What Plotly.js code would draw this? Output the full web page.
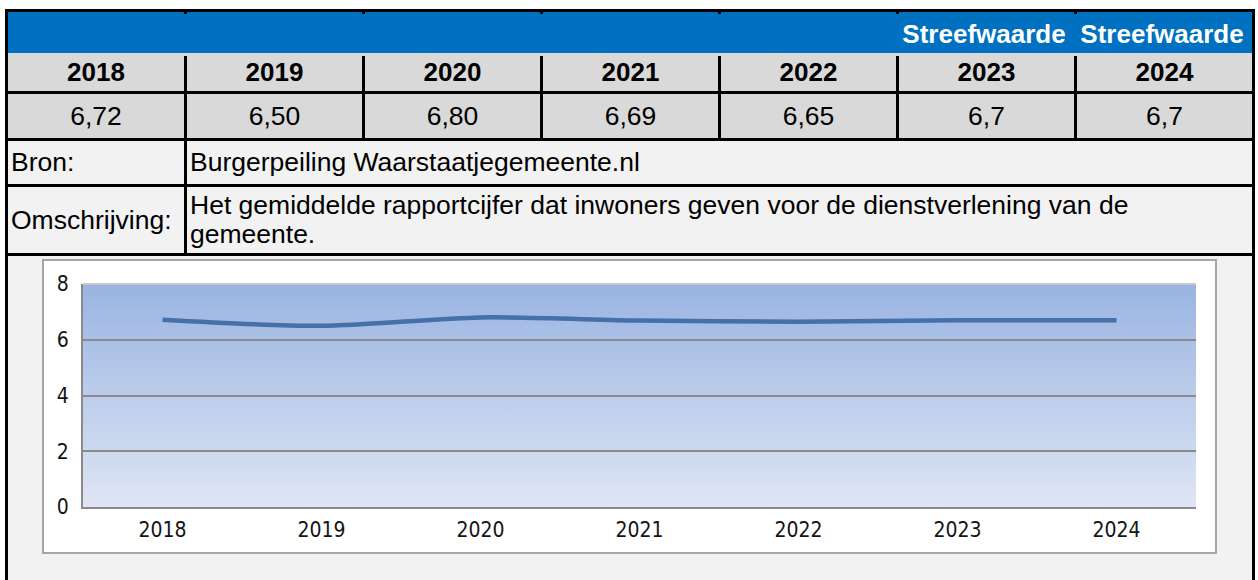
<!DOCTYPE html>
<html>
<head>
<meta charset="utf-8">
<script src="https://cdn.plot.ly/plotly-3.0.1.min.js"></script>
<style>
  html, body { margin: 0; padding: 0; background: #fff; overflow: hidden; }
  #sheet { position: relative; width: 1258px; height: 580px; font-family: "Liberation Sans", Arial, sans-serif; color: #000; }
  .box { position: absolute; box-sizing: border-box; }
  .cell { position: absolute; box-sizing: border-box; display: flex; align-items: center; font-size: 26.5px; white-space: nowrap; }
  .center { justify-content: center; }
  .left { justify-content: flex-start; padding-left: 3px; }
  .bold { font-weight: bold; font-size: 26px; }
  #chartbox { position: absolute; left: 42px; top: 259px; width: 1175px; height: 295px; box-sizing: border-box; border: 2px solid #a6a6a6; background: #fff; }
</style>
</head>
<body>
<div id="sheet">
  <div id="chartbox"><div id="chart"></div></div>
</div>
<script>
// table data
var years = ['2018', '2019', '2020', '2021', '2022', '2023', '2024'];
var scores = [6.72, 6.50, 6.80, 6.69, 6.65, 6.7, 6.7];
var scoreLabels = ['6,72', '6,50', '6,80', '6,69', '6,65', '6,7', '6,7'];
var targetLabels = ['', '', '', '', '', 'Streefwaarde', 'Streefwaarde'];
var sourceLabel = 'Bron:';
var sourceText = 'Burgerpeiling Waarstaatjegemeente.nl';
var descLabel = 'Omschrijving:';
var descLines = ['Het gemiddelde rapportcijfer dat inwoners geven voor de dienstverlening van de', 'gemeente.'];
var yTicks = [0, 2, 4, 6, 8];

var sheet = document.getElementById('sheet');
var chartbox = document.getElementById('chartbox');

function box(x0, y0, x1, y1, bg, cls, html) {
    var d = document.createElement('div');
    d.className = cls || 'box';
    d.style.left = x0 + 'px';
    d.style.top = y0 + 'px';
    d.style.width = (x1 - x0) + 'px';
    d.style.height = (y1 - y0) + 'px';
    if (bg) d.style.background = bg;
    if (html !== undefined) d.innerHTML = html;
    sheet.insertBefore(d, chartbox);
    return d;
}

// column edges (3px black lines between them)
var colLeft = [8, 187, 365, 543, 721, 899, 1077];
var colRight = [184, 362, 540, 718, 896, 1074, 1252];

// black frame behind everything
box(5, 9, 1255, 580, '#000');
// blue band with the target labels
box(8, 12, 1252, 53, '#0070c0');
for (let i = 1; i < colLeft.length; i++) {
    box(colLeft[i] - 3, 12, colLeft[i], 14, '#000');
}
for (let i = 0; i < years.length; i++) {
    if (targetLabels[i] != '') {
	var t = box(colLeft[i], 12, colRight[i], 53, null, 'cell center bold', targetLabels[i]);
	t.style.color = '#fff';
	t.style.paddingTop = '3px';
	t.style.paddingRight = '5px';
    }
}
// year row and value row
for (let i = 0; i < years.length; i++) {
    box(colLeft[i], 53, colRight[i], 91, '#d9d9d9', 'cell center bold', years[i]);
    box(colLeft[i], 94, colRight[i], 138, '#d9d9d9', 'cell center', scoreLabels[i]);
}
box(8, 53, 1252, 56, '#d9d9d9');
// source and description rows
box(8, 141, 184, 184, '#f2f2f2', 'cell left', sourceLabel);
box(187, 141, 1252, 184, '#f2f2f2', 'cell left', sourceText);
box(8, 187, 184, 253, '#f2f2f2', 'cell left', descLabel);
var desc = box(187, 187, 1252, 253, '#f2f2f2', 'cell left', '<div>' + descLines.join('<br>') + '</div>');
desc.style.lineHeight = '29px';
// chart cell
box(8, 256, 1252, 580, '#f2f2f2');

// gradient plot background
var grad = '<svg xmlns="http://www.w3.org/2000/svg" width="100" height="100" preserveAspectRatio="none">' +
    '<defs><linearGradient id="g" x1="0" y1="0" x2="0" y2="1">' +
    '<stop offset="0" stop-color="#99b4e2"/><stop offset="1" stop-color="#dfe5f4"/>' +
    '</linearGradient></defs><rect width="100" height="100" fill="url(#g)"/></svg>';
var gradSrc = 'data:image/svg+xml;charset=utf-8,' + encodeURIComponent(grad);

var trace = {
    type: 'scatter',
    mode: 'lines',
    x: years,
    y: scores,
    line: { color: '#4570a8', width: 4.5, shape: 'spline', smoothing: 0.8 },
    hoverinfo: 'skip'
};

var tickFont = { family: '"DejaVu Sans Condensed", "DejaVu Sans", sans-serif', size: 21, color: '#141414' };

var layout = {
    width: 1171, height: 291,
    margin: { l: 39, r: 19, t: 23, b: 45 },
    paper_bgcolor: '#fff',
    plot_bgcolor: 'rgba(0,0,0,0)',
    showlegend: false,
    xaxis: { type: 'category', range: [-0.5, 6.5], showgrid: false, zeroline: false,
	     showline: true, linecolor: '#8a8a8a', linewidth: 2, ticks: '',
	     ticklabelstandoff: 3, tickfont: tickFont, fixedrange: true },
    yaxis: { range: [0, 8], tickvals: yTicks, showgrid: true, gridcolor: '#8a8a8a', gridwidth: 2,
	     zeroline: false, showline: true, linecolor: '#8a8a8a', linewidth: 2, ticks: '',
	     ticklabelstandoff: 8, tickfont: tickFont, fixedrange: true },
    images: [{ source: gradSrc, xref: 'paper', yref: 'paper', x: 0, y: 1, sizex: 1, sizey: 1,
	       sizing: 'stretch', xanchor: 'left', yanchor: 'top', layer: 'below' }],
    shapes: [{ type: 'line', xref: 'paper', yref: 'paper', x0: 0, x1: 1, y0: 1, y1: 1,
	       line: { color: '#c8c8c8', width: 2 }, layer: 'above' }]
};

Plotly.newPlot('chart', [trace], layout, { staticPlot: true, displayModeBar: false });
</script>
</body>
</html>
